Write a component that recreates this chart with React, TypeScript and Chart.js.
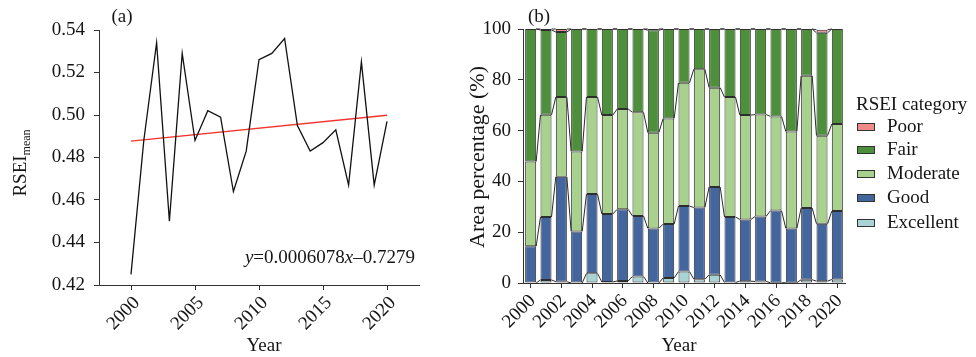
import React, { useEffect, useRef } from 'react';
import { Chart, registerables } from 'chart.js';
Chart.register(...registerables);

const years = [2000, 2001, 2002, 2003, 2004, 2005, 2006, 2007, 2008, 2009, 2010, 2011, 2012, 2013, 2014, 2015, 2016, 2017, 2018, 2019, 2020];
const yearLabels = years.map(String);
const rseiMean = [0.425, 0.488, 0.534, 0.450, 0.529, 0.488, 0.502, 0.499, 0.464, 0.483, 0.526, 0.529, 0.536, 0.495, 0.483, 0.487, 0.493, 0.467, 0.525, 0.467, 0.497];
const trendYears = [2000, 2020];
const trendValues = [0.4877, 0.4999];
const xTicksA = [2000, 2005, 2010, 2015, 2020];
const yTicksA = [0.42, 0.44, 0.46, 0.48, 0.50, 0.52, 0.54];

const excellent = [0, 1.2, 0.5, 0, 3.8, 0.4, 0.8, 2.6, 0, 2.0, 4.5, 1.5, 3.2, 0.2, 0.7, 0.6, 0.1, 0.1, 1.3, 0.7, 1.4];
const good = [14.5, 24.8, 41.3, 20.3, 31.2, 26.8, 28.2, 23.8, 21.5, 21.2, 25.8, 28.2, 34.6, 25.8, 24.3, 25.6, 28.4, 21.4, 28.2, 22.6, 26.9];
const moderate = [33.3, 40.2, 31.4, 31.5, 38.2, 38.9, 39.5, 40.8, 37.7, 41.6, 48.5, 54.5, 39.1, 47.2, 41.1, 40.1, 37.1, 38.1, 52.1, 34.7, 34.3];
const fair = [52.2, 33.4, 25.6, 48.2, 26.8, 33.9, 31.5, 32.8, 40.3, 35.2, 21.2, 15.8, 23.1, 26.8, 33.9, 33.7, 34.4, 40.4, 18.4, 40.5, 37.4];
const poor = [0, 0.4, 1.2, 0, 0, 0, 0, 0, 0.5, 0, 0, 0, 0, 0, 0, 0, 0, 0, 0, 1.2, 0];
const categoryNames = ['Excellent', 'Good', 'Moderate', 'Fair', 'Poor'];
const categoryColors = ['#a8d4d4', '#43669f', '#a9d18e', '#4e8f3c', '#f08a88'];

const FONT = '"Liberation Serif", "Times New Roman", serif';
const INK = '#151515';

function ChartA() {
  const ref = useRef<HTMLCanvasElement>(null);
  useEffect(() => {
    const canvas = ref.current!;
    const deco = {
      id: 'decoA',
      afterDraw(chart: any) {
        const ctx = chart.ctx;
        ctx.save();
        ctx.fillStyle = INK;
        ctx.textBaseline = 'middle';
        ctx.font = `19px ${FONT}`;
        ctx.textAlign = 'center';
        ctx.fillText('(a)', 122, 17);
        ctx.fillText('Year', 264, 346);
        // y title with subscript
        ctx.save();
        ctx.translate(21, 163);
        ctx.rotate(-Math.PI / 2);
        ctx.textAlign = 'left';
        ctx.font = `19px ${FONT}`;
        const w1 = ctx.measureText('RSEI').width;
        ctx.font = `12px ${FONT}`;
        const w2 = ctx.measureText('mean').width;
        const start = -(w1 + w2) / 2;
        ctx.font = `19px ${FONT}`;
        ctx.fillText('RSEI', start, 0);
        ctx.font = `12px ${FONT}`;
        ctx.fillText('mean', start + w1, 6);
        ctx.restore();
        // equation
        const parts: [string, boolean][] = [['y', true], ['=0.0006078', false], ['x', true], ['–0.7279', false]];
        let total = 0;
        const widths = parts.map(([t, it]) => {
          ctx.font = `${it ? 'italic ' : ''}19px ${FONT}`;
          const w = ctx.measureText(t).width;
          total += w;
          return w;
        });
        let x = 415 - total;
        ctx.textAlign = 'left';
        parts.forEach(([t, it], i) => {
          ctx.font = `${it ? 'italic ' : ''}19px ${FONT}`;
          ctx.fillText(t, x, 258);
          x += widths[i];
        });
        ctx.restore();
      },
    };
    const chart = new Chart(canvas, {
      type: 'line',
      data: {
        datasets: [
          {
            data: years.map((y, i) => ({ x: y, y: rseiMean[i] })),
            borderColor: '#111',
            borderWidth: 1.3,
            pointRadius: 0,
            tension: 0,
          },
          {
            data: trendYears.map((y, i) => ({ x: y, y: trendValues[i] })),
            borderColor: '#f0352d',
            borderWidth: 1.4,
            pointRadius: 0,
          },
        ],
      },
      options: {
        animation: false,
        responsive: false,
        events: [],
        layout: { padding: { left: 0, right: 31, top: 30, bottom: 0 } },
        plugins: { legend: { display: false }, tooltip: { enabled: false } },
        scales: {
          x: {
            type: 'linear',
            min: 1997.5,
            max: 2022.5,
            afterBuildTicks: (s: any) => { s.ticks = xTicksA.map((v) => ({ value: v })); },
            afterFit: (s: any) => { s.height = 72; },
            ticks: { maxRotation: 45, minRotation: 45, labelOffset: 6, color: INK, font: { family: FONT, size: 19 }, padding: 2, callback: (v: any) => String(v) },
            grid: { display: true, drawOnChartArea: false, drawTicks: true, tickLength: 5, color: '#333' },
            border: { display: true, color: '#333', width: 1 },
          },
          y: {
            min: 0.42,
            max: 0.54,
            afterBuildTicks: (s: any) => { s.ticks = yTicksA.map((v) => ({ value: v })); },
            afterFit: (s: any) => { s.width = 99; },
            ticks: { color: INK, font: { family: FONT, size: 19 }, padding: 9, callback: (v: any) => Number(v).toFixed(2) },
            grid: { display: true, drawOnChartArea: false, drawTicks: true, tickLength: 5, color: '#333' },
            border: { display: true, color: '#333', width: 1 },
          },
        },
      },
      plugins: [deco],
    } as any);
    return () => chart.destroy();
  }, []);
  return <canvas ref={ref} width={450} height={357} style={{ position: 'absolute', left: 0, top: 0, width: 450, height: 357 }} />;
}

function ChartB() {
  const ref = useRef<HTMLCanvasElement>(null);
  useEffect(() => {
    const canvas = ref.current!;
    const OX = 450;
    const connectors = {
      id: 'connectors',
      afterDatasetsDraw(chart: any) {
        const ctx = chart.ctx;
        ctx.save();
        ctx.strokeStyle = '#2a2a2a';
        ctx.lineWidth = 1;
        chart.data.datasets.forEach((_: any, d: number) => {
          const meta = chart.getDatasetMeta(d);
          ctx.beginPath();
          for (let i = 0; i < meta.data.length - 1; i++) {
            const a = meta.data[i].getProps(['x', 'y', 'width'], true);
            const b = meta.data[i + 1].getProps(['x', 'y', 'width'], true);
            ctx.moveTo(a.x + a.width / 2, a.y);
            ctx.lineTo(b.x - b.width / 2, b.y);
          }
          ctx.stroke();
        });
        ctx.restore();
      },
      afterDraw(chart: any) {
        const ctx = chart.ctx;
        ctx.save();
        ctx.fillStyle = INK;
        ctx.textBaseline = 'middle';
        ctx.font = `19px ${FONT}`;
        ctx.textAlign = 'center';
        ctx.fillText('(b)', 539 - OX, 17);
        ctx.fillText('Year', 679 - OX, 346);
        ctx.save();
        ctx.translate(478 - OX, 157);
        ctx.rotate(-Math.PI / 2);
        ctx.font = `22px ${FONT}`;
        ctx.fillText('Area percentage (%)', 0, 0);
        ctx.restore();
        // legend
        ctx.font = `19px ${FONT}`;
        ctx.textAlign = 'left';
        ctx.fillText('RSEI category', 856 - OX, 105);
        const ys = [127, 150, 174, 198, 223];
        const order = [4, 3, 2, 1, 0];
        order.forEach((di, k) => {
          const y = ys[k];
          ctx.fillStyle = categoryColors[di];
          ctx.fillRect(857 - OX, y - 4, 18, 8);
          ctx.strokeStyle = '#333';
          ctx.lineWidth = 1;
          ctx.strokeRect(857.5 - OX, y - 3.5, 17, 7);
          ctx.fillStyle = INK;
          ctx.fillText(categoryNames[di], 887 - OX, y);
        });
        ctx.restore();
      },
    };
    const series = [excellent, good, moderate, fair, poor];
    const chart = new Chart(canvas, {
      type: 'bar',
      data: {
        labels: yearLabels,
        datasets: series.map((vals, i) => ({
          label: categoryNames[i],
          data: vals,
          backgroundColor: categoryColors[i],
          borderColor: '#2e2e2e',
          borderWidth: 1,
          borderSkipped: false,
          categoryPercentage: 1,
          barPercentage: 0.72,
        })),
      },
      options: {
        animation: false,
        responsive: false,
        events: [],
        layout: { padding: { left: 0, right: 131, top: 29, bottom: 0 } },
        plugins: { legend: { display: false }, tooltip: { enabled: false } },
        scales: {
          x: {
            stacked: true,
            offset: true,
            afterFit: (s: any) => { s.height = 74; },
            ticks: {
              autoSkip: false,
              maxRotation: 45,
              minRotation: 45,
              labelOffset: 2,
              color: INK,
              font: { family: FONT, size: 19 },
              padding: 2,
              callback: (_v: any, idx: number) => (idx % 2 === 0 ? yearLabels[idx] : null),
            },
            grid: { display: true, offset: false, drawOnChartArea: false, drawTicks: true, tickLength: 5, color: '#333' },
            border: { display: true, color: '#333', width: 1 },
          },
          y: {
            stacked: true,
            min: 0,
            max: 100,
            afterFit: (s: any) => { s.width = 73; },
            ticks: { stepSize: 20, color: INK, font: { family: FONT, size: 19 }, padding: 7 },
            grid: { display: true, drawOnChartArea: false, drawTicks: true, tickLength: 5, color: '#333' },
            border: { display: true, color: '#333', width: 1 },
          },
        },
      },
      plugins: [connectors],
    } as any);
    return () => chart.destroy();
  }, []);
  return <canvas ref={ref} width={526} height={357} style={{ position: 'absolute', left: 450, top: 0, width: 526, height: 357 }} />;
}

export default function App() {
  return (
    <div style={{ position: 'fixed', left: 0, top: 0, width: 976, height: 357, background: '#fff', overflow: 'hidden' }}>
      <ChartA />
      <ChartB />
    </div>
  );
}
